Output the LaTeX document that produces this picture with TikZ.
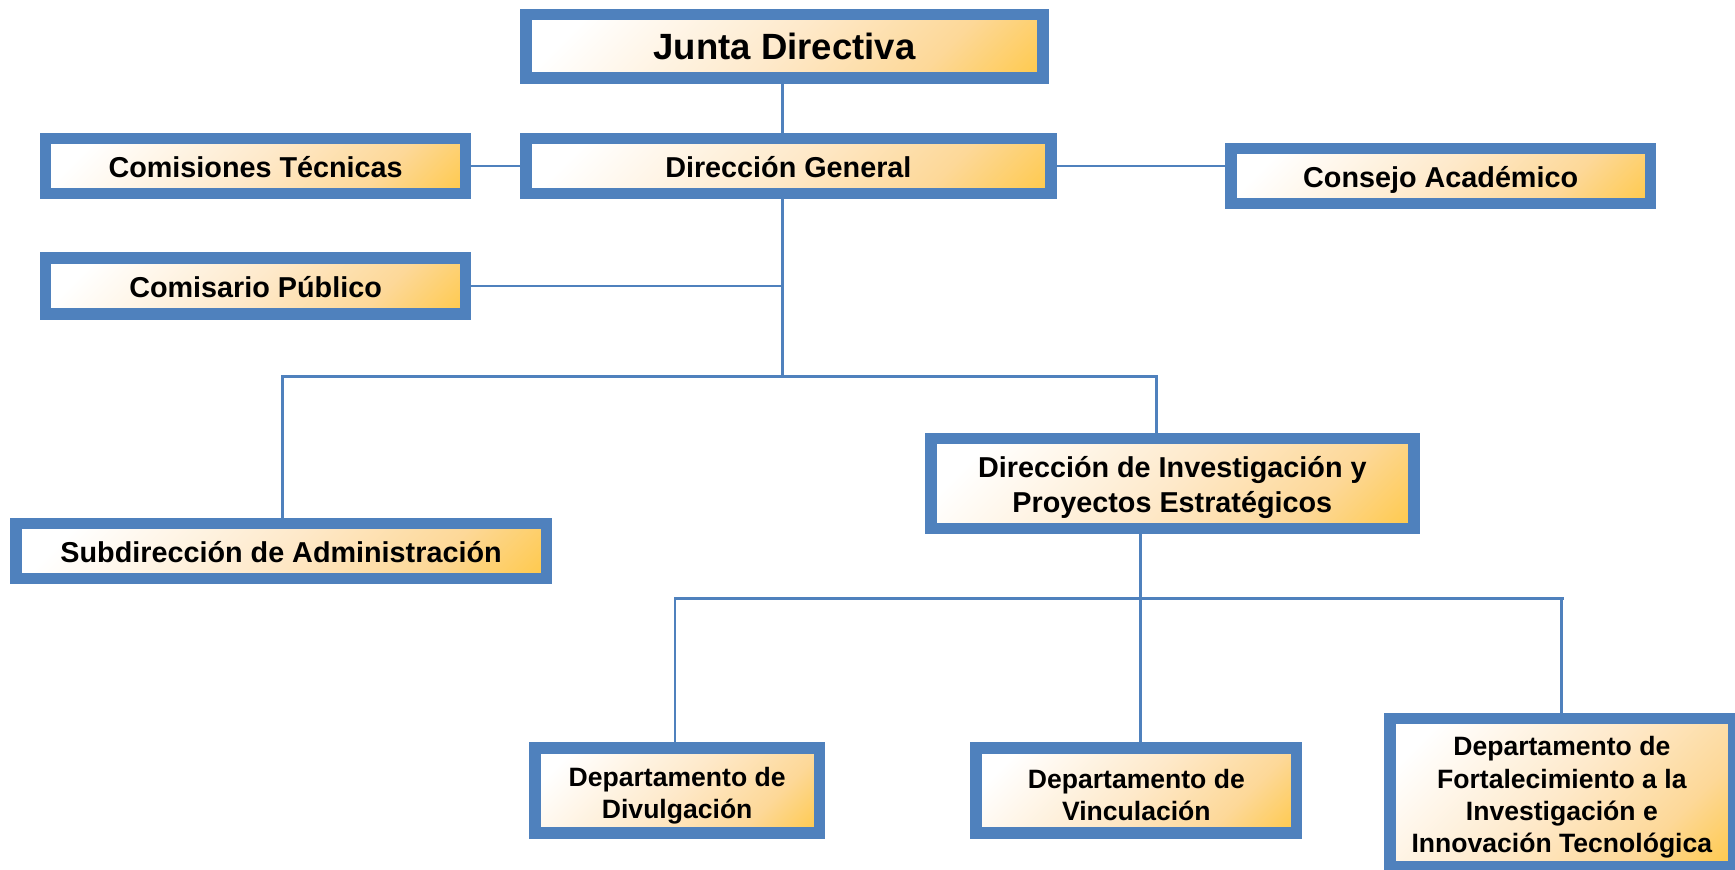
\documentclass[tikz,border=0pt]{standalone}
\usepackage{fontspec}
\setmainfont{Liberation Sans}
\definecolor{orgblue}{RGB}{79,129,189}
\definecolor{orggold}{RGB}{255,192,0}
\definecolor{orgamber}{RGB}{254,202,80}
\definecolor{orgapricot}{RGB}{253,216,152}
\definecolor{orgpeach}{RGB}{254,233,202}
\pgfdeclareverticalshading{boxfill}{100bp}{color(0bp)=(orggold); color(8bp)=(orggold);
	color(16bp)=(orgamber); color(30bp)=(orgapricot); color(50bp)=(orgpeach);
	color(78bp)=(white); color(100bp)=(white)}
\newcommand{\topstrut}[1]{\rule{0pt}{#1}}
\begin{document}
\begin{tikzpicture}
	[x=0.5pt,y=-0.5pt,
	box/.style={draw=orgblue,line width=5.25pt,inner sep=0pt,align=center,
		shading=boxfill,shading angle=45,
		font=\bfseries\fontsize{13}{15.5}\selectfont},
	single/.style={box,text height=11.2pt,text depth=1pt},
	dept/.style={box,font=\bfseries\fontsize{12}{14.5}\selectfont},
	link/.style={draw=orgblue,line width=1.3pt}]
	\useasboundingbox (0,0) rectangle (1568,786);
	% boxes
	\node [box,minimum width=233.75pt,minimum height=28.75pt,font=\bfseries\fontsize{16.5}{19}\selectfont] (junta) at (709,42) {Junta Directiva};
	\node [single,minimum width=237.25pt,minimum height=24.75pt] (general) at (712.5,150) {Dirección General};
	\node [single,minimum width=189.75pt,minimum height=24.75pt] (comisiones) at (231,150) {Comisiones Técnicas};
	\node [single,minimum width=189.75pt,minimum height=24.75pt] (consejo) at (1302,159) {Consejo Académico};
	\node [single,minimum width=189.75pt,minimum height=25.25pt] (comisario) at (231,258.5) {Comisario Público};
	\node [single,minimum width=239.75pt,minimum height=24.75pt] (admin) at (254,498) {Subdirección de Administración};
	\node [box,minimum width=218.25pt,minimum height=40.75pt] (investigacion) at (1059.5,437) {\topstrut{13pt}Dirección de Investigación y\\Proyectos Estratégicos};
	\node [dept,minimum width=128.75pt,minimum height=38.25pt] (divulgacion) at (612,714.5) {\topstrut{13pt}Departamento de\\Divulgación};
	\node [dept,minimum width=144.75pt,minimum height=38.25pt] (vinculacion) at (1027,714.5) {\topstrut{13pt}Departamento de\\Vinculación};
	\node [dept,minimum width=155.25pt,minimum height=67pt] (fortalecimiento) at (1411.5,716.25) {\topstrut{13pt}Departamento de\\Fortalecimiento a la\\Investigación e\\Innovación Tecnológica};
	% junctions
	\coordinate (spine) at (707,340);
	\coordinate (busleft) at (255,340);
	\coordinate (busright) at (1045,340);
	\coordinate (spinetwo) at (1031,541);
	\coordinate (deptleft) at (610,541);
	\coordinate (deptright) at (1411,541);
	% connectors
	\draw [link] (spine |- junta.south) -- (spine |- general.north);
	\draw [link] (comisiones.east) -- (general.west);
	\draw [link] (general.east) -- (general.east -| consejo.west);
	\draw [link] (spine |- general.south) -- (spine);
	\draw [link] (comisario.east) -- (comisario.east -| spine);
	\draw [link] (busleft |- admin.north) -- (busleft) -- (busright) -- (busright |- investigacion.north);
	\draw [link] (spinetwo |- investigacion.south) -- (spinetwo |- vinculacion.north);
	\draw [link] (deptleft |- divulgacion.north) -- (deptleft) -- ([xshift=1pt]deptright) (deptright) -- (deptright |- fortalecimiento.north);
\end{tikzpicture}
\end{document}
